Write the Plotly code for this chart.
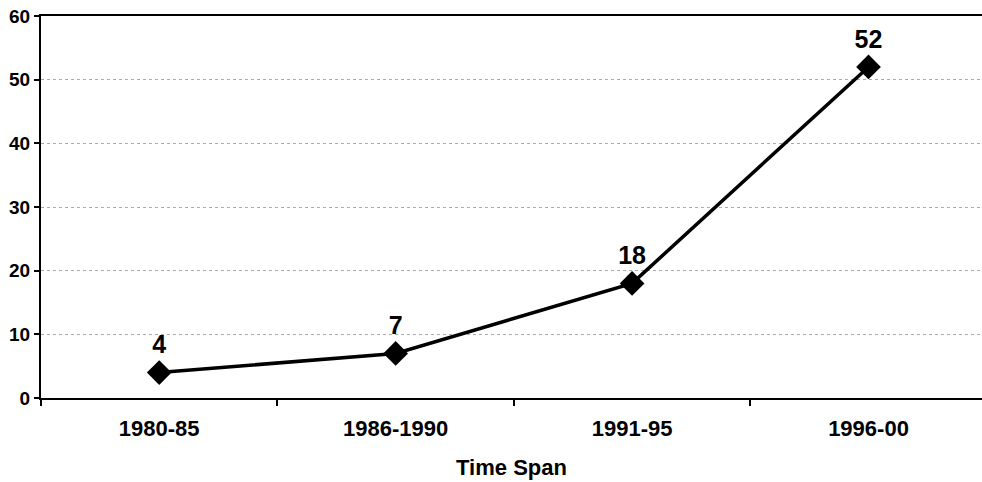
import plotly.graph_objects as go

categories = ["1980-85", "1986-1990", "1991-95", "1996-00"]
values = [4, 7, 18, 52]
value_labels = ["4", "7", "18", "52"]
x_title = "Time Span"

fig = go.Figure()
fig.add_trace(go.Scatter(
    x=categories, y=values,
    mode="lines+markers+text",
    text=value_labels,
    textposition="top center",
    textfont=dict(family="Liberation Sans, Arial", size=25, color="black", weight="bold"),
    line=dict(color="black", width=3.5),
    marker=dict(symbol="diamond", size=19, color="black"),
    cliponaxis=False,
    showlegend=False,
))

fig.update_layout(
    width=982, height=482,
    margin=dict(l=41, r=0, t=16, b=84),
    paper_bgcolor="white", plot_bgcolor="white",
    font=dict(family="Liberation Sans, Arial", color="black"),
    xaxis=dict(
        type="category", range=[-0.5, 3.48], automargin=False,
        showline=True, linecolor="black", linewidth=2, mirror=True,
        ticks="outside", tickson="boundaries", ticklen=6, tickwidth=1.5, tickcolor="black",
        showgrid=False,
        tickfont=dict(size=22, weight="bold"),
        ticklabelstandoff=10,
        title=dict(text=x_title, font=dict(size=22, weight="bold"), standoff=19),
    ),
    yaxis=dict(
        range=[0, 60], dtick=10, automargin=False,
        showline=True, linecolor="black", linewidth=2,
        ticks="outside", ticklen=5, tickwidth=1.5, tickcolor="black",
        showgrid=True, gridcolor="#aaaaaa", gridwidth=1, griddash="dot",
        zeroline=False, ticklabeloverflow="allow",
        tickfont=dict(size=19, weight="bold"),
    ),
)

fig.write_html(
    "out.html",
    config={"displayModeBar": False},
    post_script="document.body.style.margin='0';document.documentElement.style.overflow='hidden';",
)
